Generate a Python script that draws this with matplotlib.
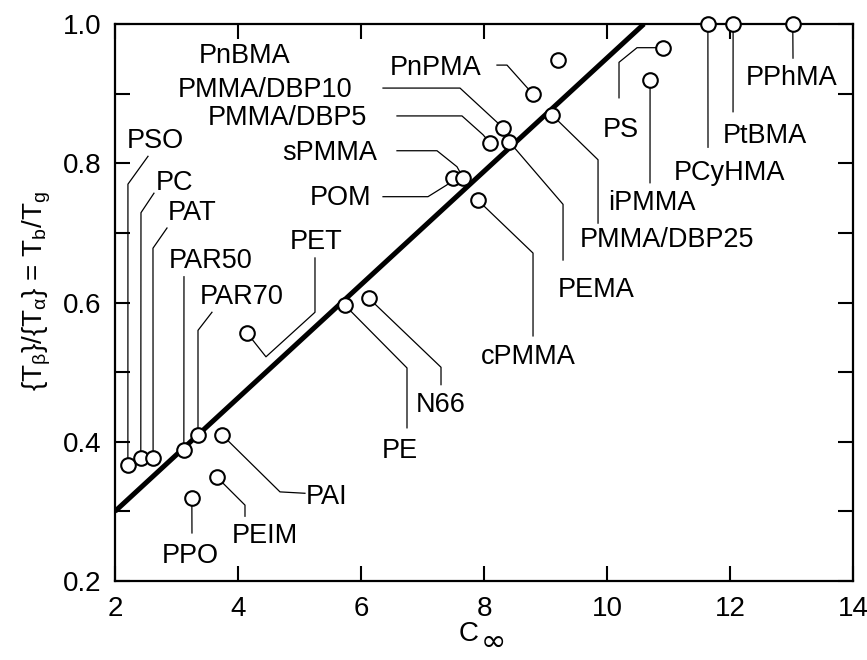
import numpy as np
import matplotlib
matplotlib.use("Agg")
from matplotlib import pyplot as plt

# ---------------------------------- DATA ----------------------------------
# C_inf and T_beta/T_alpha
names = ["PSO", "PC", "PAT", "PAR50", "PAR70", "PAI", "PEIM", "PPO", "PET",
         "PE", "N66", "POM", "sPMMA", "cPMMA", "PMMA/DBP5", "PMMA/DBP10",
         "PEMA", "PMMA/DBP25", "PnPMA", "PnBMA", "PS", "iPMMA", "PCyHMA",
         "PtBMA", "PPhMA"]
c_inf = [2.21, 2.42, 2.62, 3.12, 3.35, 3.74, 3.66, 3.25, 4.15,
         5.74, 6.13, 7.50, 7.66, 7.90, 8.10, 8.31,
         8.41, 9.11, 8.80, 9.20, 10.91, 10.70, 11.64,
         12.05, 13.02]
ratio = [0.367, 0.377, 0.377, 0.388, 0.410, 0.410, 0.349, 0.319, 0.556,
         0.596, 0.606, 0.779, 0.779, 0.747, 0.829, 0.851,
         0.831, 0.869, 0.899, 0.948, 0.966, 0.920, 1.0,
         1.0, 1.0]

# straight line through the data
fit_x = [2.0, 10.6]
fit_y = [0.30, 1.0]

# label centre and leader elbows (data units), leader runs label -> point
labels = {
    "PSO": ((2.650, 0.832), [(2.537, 0.810), (2.211, 0.770)]),
    "PC": ((2.976, 0.772), [(2.634, 0.757), (2.423, 0.729)]),
    "PAT": ((3.252, 0.729), [(2.846, 0.707), (2.618, 0.678)]),
    "PAR50": ((3.561, 0.660), [(3.122, 0.637)]),
    "PAR70": ((4.065, 0.608), [(3.577, 0.586), (3.350, 0.560)]),
    "PAI": ((5.447, 0.321), [(5.089, 0.326), (4.683, 0.328)]),
    "PEIM": ((4.439, 0.265), [(4.114, 0.293), (4.114, 0.309)]),
    "PPO": ((3.220, 0.236), [(3.252, 0.269)]),
    "PET": ((5.268, 0.687), [(5.252, 0.664), (5.252, 0.586), (4.455, 0.522)]),
    "PE": ((6.634, 0.387), [(6.748, 0.420), (6.748, 0.506)]),
    "N66": ((7.301, 0.453), [(7.301, 0.482), (7.301, 0.507)]),
    "POM": ((5.675, 0.750), [(6.358, 0.752), (7.089, 0.752), (7.398, 0.769)]),
    "sPMMA": ((5.496, 0.815), [(6.585, 0.818), (7.236, 0.818), (7.561, 0.795)]),
    "cPMMA": ((8.715, 0.522), [(8.797, 0.552), (8.797, 0.671)]),
    "PMMA/DBP5": ((4.797, 0.865), [(6.585, 0.868), (7.642, 0.868), (7.984, 0.841)]),
    "PMMA/DBP10": ((4.439, 0.905), [(6.358, 0.908), (7.610, 0.908), (8.211, 0.859)]),
    "PEMA": ((9.821, 0.618), [(9.285, 0.661), (9.285, 0.741)]),
    "PMMA/DBP25": ((10.976, 0.690), [(9.854, 0.714), (9.854, 0.805)]),
    "PnPMA": ((7.220, 0.937), [(8.211, 0.941), (8.374, 0.941), (8.667, 0.912)]),
    "PnBMA": ((4.114, 0.954), []),
    "PS": ((10.228, 0.848), [(10.195, 0.894), (10.195, 0.945), (10.488, 0.966)]),
    "iPMMA": ((10.732, 0.743), [(10.699, 0.772)]),
    "PCyHMA": ((11.984, 0.786), [(11.642, 0.823)]),
    "PtBMA": ((12.569, 0.839), [(12.049, 0.874)]),
    "PPhMA": ((13.008, 0.922), [(13.024, 0.951)]),
}

# ---------------------------------- PLOT ----------------------------------
plt.rcParams["font.family"] = ["Liberation Sans", "DejaVu Sans"]
plt.rcParams["mathtext.fontset"] = "custom"
plt.rcParams["mathtext.rm"] = "Liberation Sans"
plt.rcParams["mathtext.it"] = "Liberation Sans"

fig = plt.figure(figsize=(8.67, 6.6), dpi=100)
ax = fig.add_axes([0.1326, 0.1197, 0.9839 - 0.1326, 0.9636 - 0.1197])

for name, x, y in zip(names, c_inf, ratio):
    (tx, ty), elbows = labels[name]
    ax.text(tx, ty, name, fontsize=19.5, ha="center", va="center")
    if elbows:
        px = [p[0] for p in elbows] + [x]
        py = [p[1] for p in elbows] + [y]
        ax.plot(px, py, color="black", lw=0.9, zorder=2)

ax.plot(fit_x, fit_y, color="black", lw=3.6, solid_capstyle="butt", zorder=3)
ax.plot(c_inf, ratio, "o", ms=10.5, mfc="white", mec="black", mew=1.5,
        clip_on=False, zorder=5)

ax.set_xlim(2, 14)
ax.set_ylim(0.2, 1.0)
ax.set_xticks([2, 4, 6, 8, 10, 12, 14])
ax.set_yticks([0.2, 0.4, 0.6, 0.8, 1.0])
ax.set_yticklabels(["0.2", "0.4", "0.6", "0.8", "1.0"])
ax.set_yticks([0.3, 0.5, 0.7, 0.9], minor=True)
ax.tick_params(which="both", direction="in", top=True, right=True,
               length=11, width=1.5, labelsize=20)
ax.tick_params(axis="y", pad=10)
ax.tick_params(axis="x", pad=11)
for s in ax.spines.values():
    s.set_linewidth(1.6)

# x label: C with a large, lowered infinity sign
ax.text(0.493, -0.095, "C", transform=ax.transAxes, fontsize=20,
        ha="right", va="center")
ax.text(0.495, -0.11, "\u221e", transform=ax.transAxes, fontsize=22,
        family="DejaVu Sans", ha="left", va="center")
ax.set_ylabel(r"$\{\mathrm{T}_\beta\}/\{\mathrm{T}_\alpha\}$ = T$_\mathrm{b}$/T$_\mathrm{g}$",
              fontsize=20)
ax.yaxis.set_label_coords(-0.084, 0.52)

fig.savefig("out.png", dpi=100)
